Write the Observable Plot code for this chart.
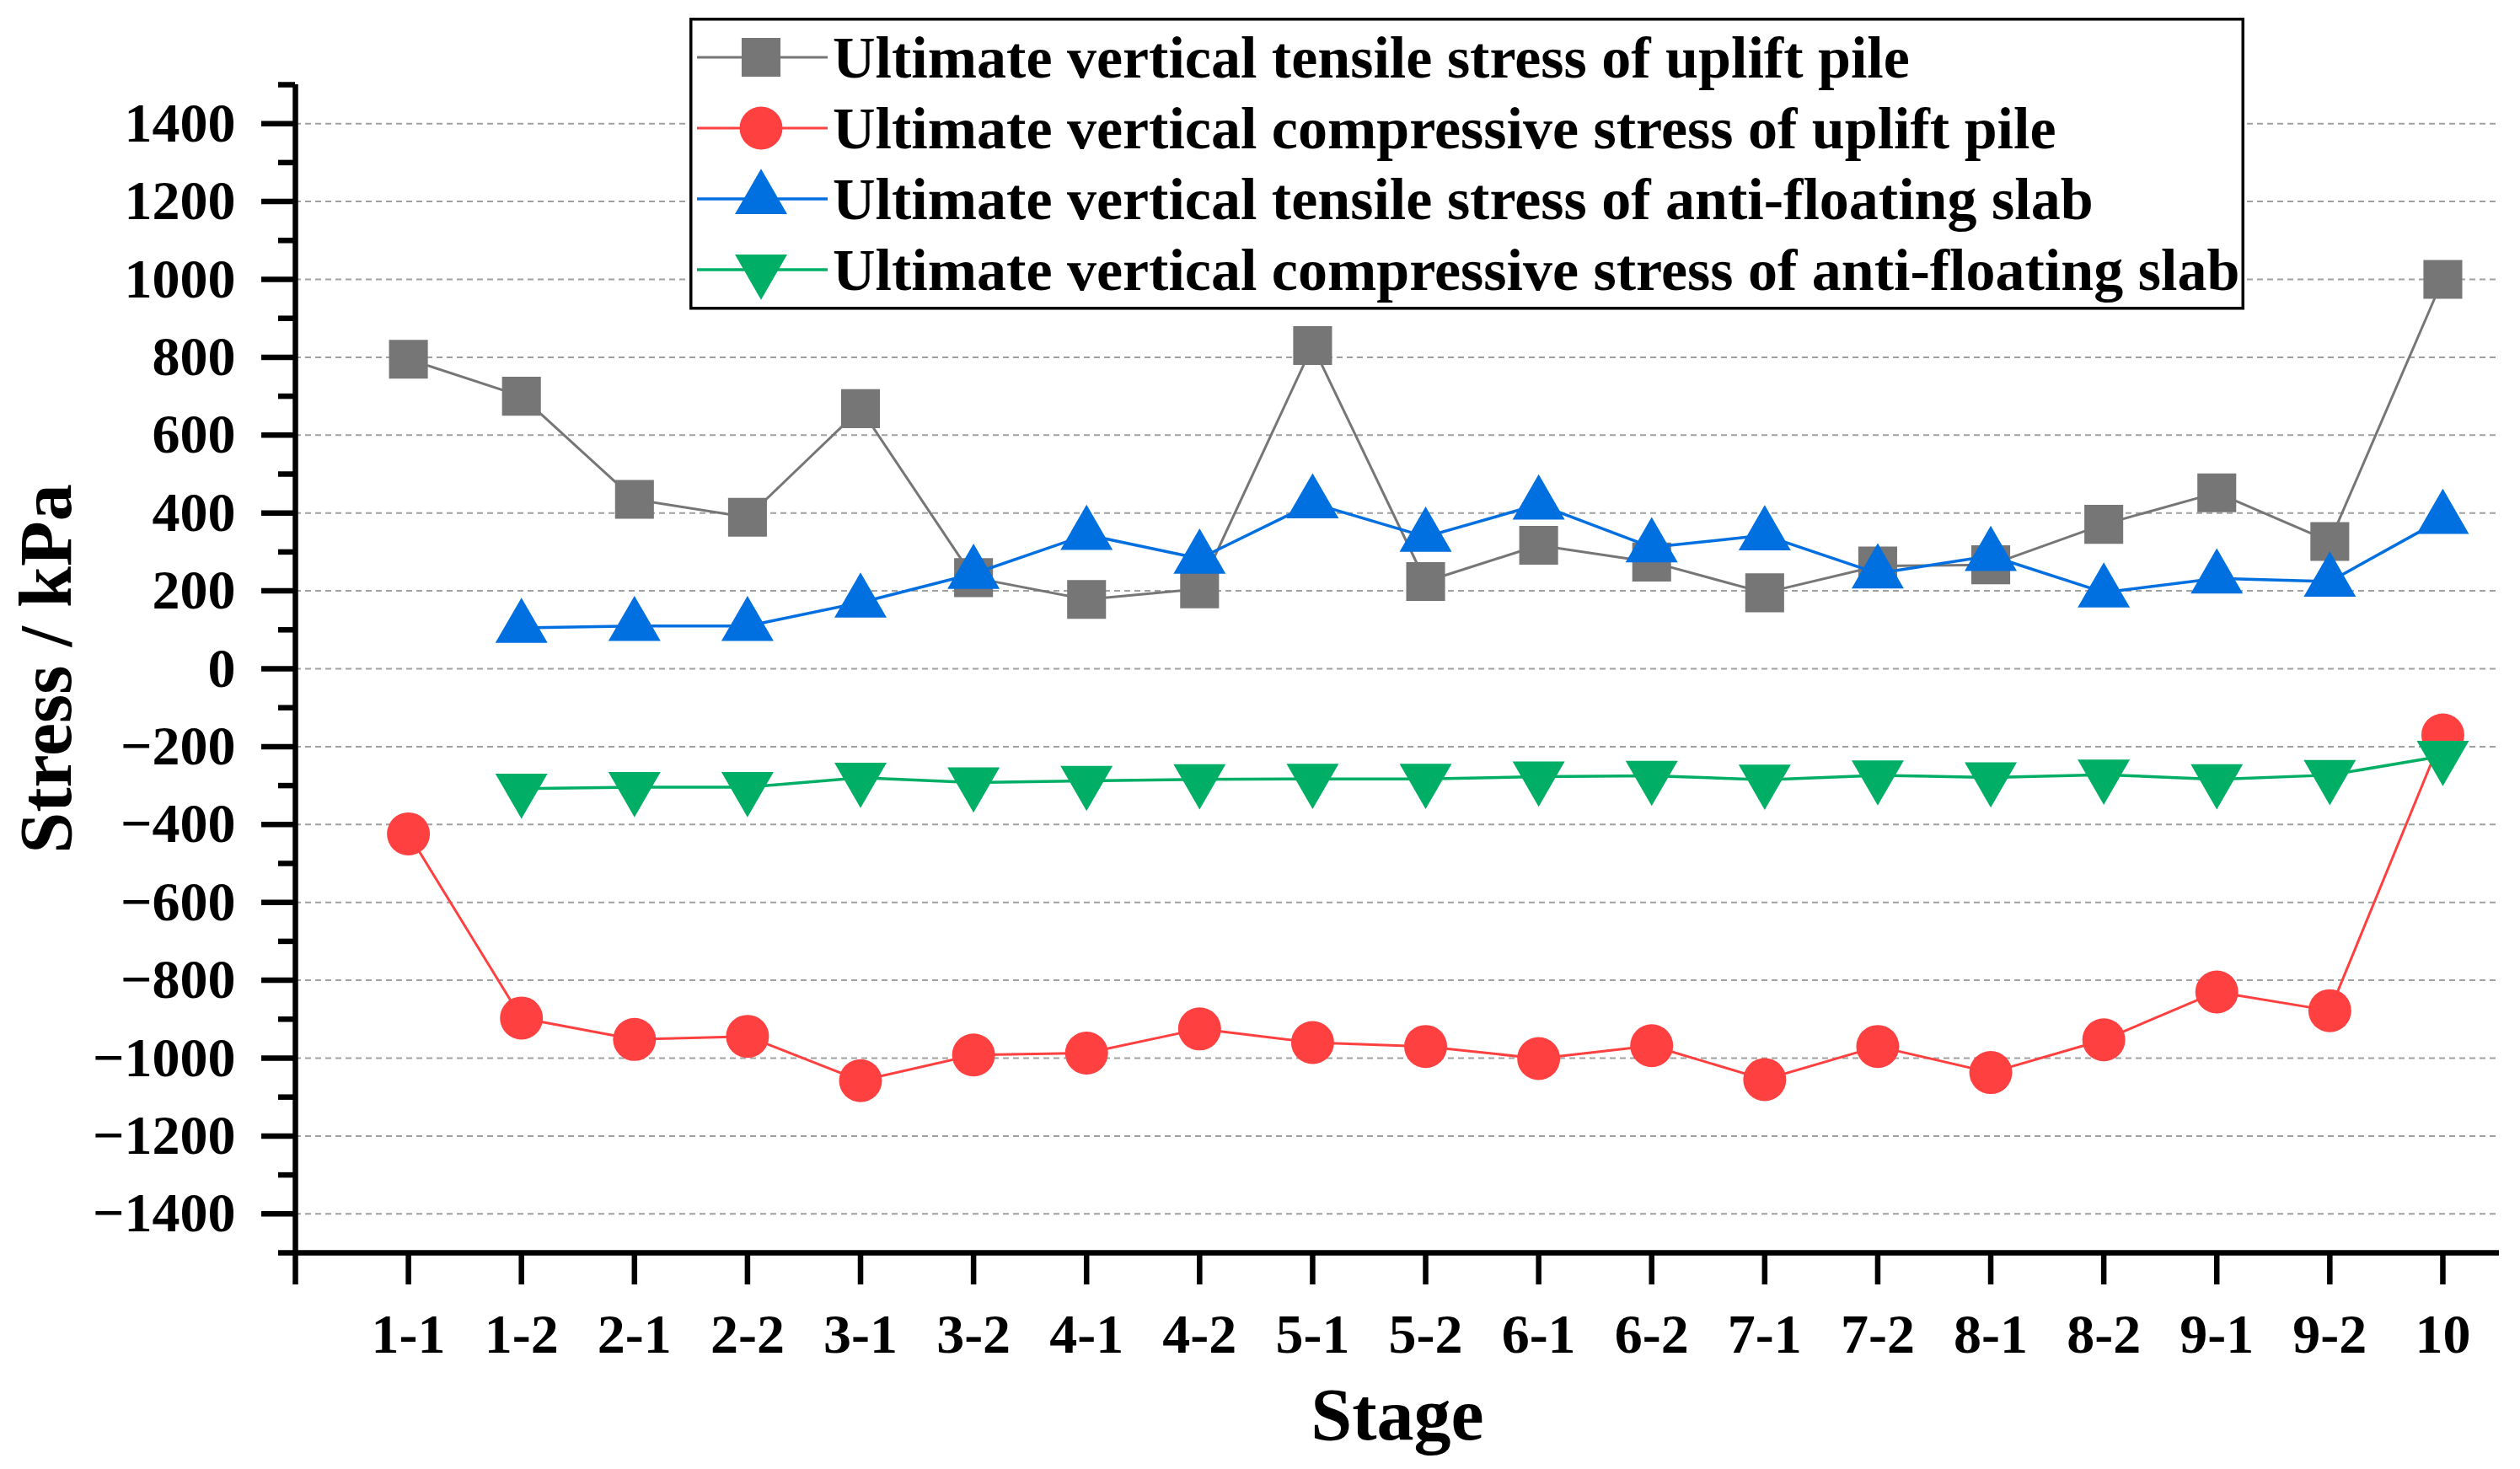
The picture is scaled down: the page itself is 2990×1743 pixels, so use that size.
<!DOCTYPE html>
<html>
<head>
<meta charset="utf-8">
<script src="https://cdn.jsdelivr.net/npm/d3@7"></script>
<script src="https://cdn.jsdelivr.net/npm/@observablehq/plot@0.6"></script>
<style>
  body { margin: 0; background: #fff; }
  #wrap { position: relative; width: 2990px; height: 1743px; background: #fff; }
</style>
</head>
<body>
<div id="wrap"></div>
<script>
// ---------- data ----------
const stages = ["1-1","1-2","2-1","2-2","3-1","3-2","4-1","4-2","5-1","5-2","6-1","6-2","7-1","7-2","8-1","8-2","9-1","9-2","10"];
const pileTensile     = [795, 700, 435, 389, 668, 234, 178, 205, 830, 224, 317, 274, 195, 264, 267, 371, 452, 327, 1000];
const pileCompressive = [-424, -897, -952, -944, -1058, -992, -987, -925, -960, -970, -1001, -968, -1055, -970, -1037, -953, -830, -878, -170];
const slabTensile     = [null, 105, 110, 110, 170, 244, 344, 283, 425, 339, 422, 312, 343, 245, 290, 196, 232, 224, 385];
const slabCompressive = [null, -308, -304, -304, -280, -292, -288, -284, -283, -283, -277, -275, -285, -274, -279, -272, -284, -273, -224];
const seriesNames = [
  "Ultimate vertical tensile stress of uplift pile",
  "Ultimate vertical compressive stress of uplift pile",
  "Ultimate vertical tensile stress of anti-floating slab",
  "Ultimate vertical compressive stress of anti-floating slab"
];
const yTickValues  = [-1400, -1200, -1000, -800, -600, -400, -200, 0, 200, 400, 600, 800, 1000, 1200, 1400];
const yMinorValues = [-1500, -1300, -1100, -900, -700, -500, -300, -100, 100, 300, 500, 700, 900, 1100, 1300, 1500];
const xTickValues  = [-1, 0, 1, 2, 3, 4, 5, 6, 7, 8, 9, 10, 11, 12, 13, 14, 15, 16, 17, 18];
const xTitle = "Stage";
const yTitle = "Stress / kPa";

// ---------- style ----------
const font = "'Liberation Serif', 'Times New Roman', serif";
const colors = ["#767676", "#FF4040", "#006FE0", "#00AE66"];
const lineWidths = [3, 3, 3.5, 3.5];
const radii = [26, 25.5, 23, 23];
const downTriangle = {
  draw(ctx, size) {
    const y = -Math.sqrt(size / (Math.sqrt(3) * 3));
    ctx.moveTo(0, -2 * y);
    ctx.lineTo(-Math.sqrt(3) * y, y);
    ctx.lineTo(Math.sqrt(3) * y, y);
    ctx.closePath();
  }
};
const plotSymbols = ["square", "circle", "triangle", downTriangle];
const legendSymbols = [d3.symbolSquare, d3.symbolCircle, d3.symbolTriangle, downTriangle];

const xDomain = [-1, stages.length - 0.5];
const yDomain = [-1500, 1500];
const fmt = d => d < 0 ? "\u2212" + Math.abs(d) : String(d);

const allSeries = [pileTensile, pileCompressive, slabTensile, slabCompressive]
  .map(vals => vals.map((v, i) => ({i, v})).filter(d => d.v != null));

const marks = [
  Plot.ruleY(yTickValues, {stroke: "#a0a0a0", strokeWidth: 2, strokeDasharray: "7,5"})
];
allSeries.forEach((rows, k) => {
  marks.push(Plot.line(rows, {x: "i", y: "v", stroke: colors[k], strokeWidth: lineWidths[k]}));
  marks.push(Plot.dot(rows, {x: "i", y: "v", symbol: plotSymbols[k], r: radii[k], fill: colors[k], stroke: "none"}));
});
marks.push(
  Plot.axisY(yMinorValues, {tickSize: 20, tickFormat: () => "", strokeWidth: 6.5, label: null}),
  Plot.axisY(yTickValues, {tickSize: 40, tickPadding: 31, tickFormat: fmt, fontSize: 66, fontWeight: "bold", fontFamily: font, strokeWidth: 6.5, label: null}),
  Plot.axisX(xTickValues, {tickSize: 38, tickPadding: 34, tickFormat: d => d < 0 ? "" : stages[d], fontSize: 66, fontWeight: "bold", fontFamily: font, strokeWidth: 6.5, label: null}),
  Plot.ruleX([xDomain[0]], {stroke: "black", strokeWidth: 6.5}),
  Plot.ruleY([yDomain[0]], {stroke: "black", strokeWidth: 6.5}),
  Plot.text([xTitle], {text: d => d, frameAnchor: "bottom", textAnchor: "middle", lineAnchor: "middle", dy: 193, fontSize: 88, fontWeight: "bold", fontFamily: font}),
  Plot.text([yTitle], {text: d => d, frameAnchor: "left", textAnchor: "middle", lineAnchor: "middle", rotate: -90, dx: -295, fontSize: 88, fontWeight: "bold", fontFamily: font})
);

const chart = Plot.plot({
  width: 2990,
  height: 1743,
  marginLeft: 350,
  marginRight: 25,
  marginTop: 100,
  marginBottom: 257,
  x: {type: "linear", domain: xDomain},
  y: {type: "linear", domain: yDomain},
  style: {fontFamily: font, fontWeight: "bold", background: "white", color: "black"},
  marks
});
const wrap = document.getElementById("wrap");
wrap.appendChild(chart);

// ---------- legend (inside plot area, top) ----------
const leg = d3.create("svg")
  .attr("width", 2990).attr("height", 1743)
  .style("position", "absolute").style("left", "0px").style("top", "0px")
  .style("font-family", font).style("pointer-events", "none");
leg.append("rect")
  .attr("x", 819.75).attr("y", 22.75).attr("width", 1841.5).attr("height", 343)
  .attr("fill", "white").attr("stroke", "black").attr("stroke-width", 3.5);
seriesNames.forEach((name, k) => {
  const cy = 68 + 84 * k;
  const g = leg.append("g");
  g.append("line").attr("x1", 827).attr("x2", 982).attr("y1", cy).attr("y2", cy)
    .attr("stroke", colors[k]).attr("stroke-width", lineWidths[k]);
  g.append("path")
    .attr("d", d3.symbol(legendSymbols[k], Math.PI * radii[k] * radii[k])())
    .attr("transform", `translate(903,${cy})`)
    .attr("fill", colors[k]);
  g.append("text").attr("x", 988).attr("y", cy + 24)
    .attr("font-size", 70).attr("font-weight", "bold").attr("fill", "black")
    .text(name);
});
wrap.appendChild(leg.node());
</script>
</body>
</html>
